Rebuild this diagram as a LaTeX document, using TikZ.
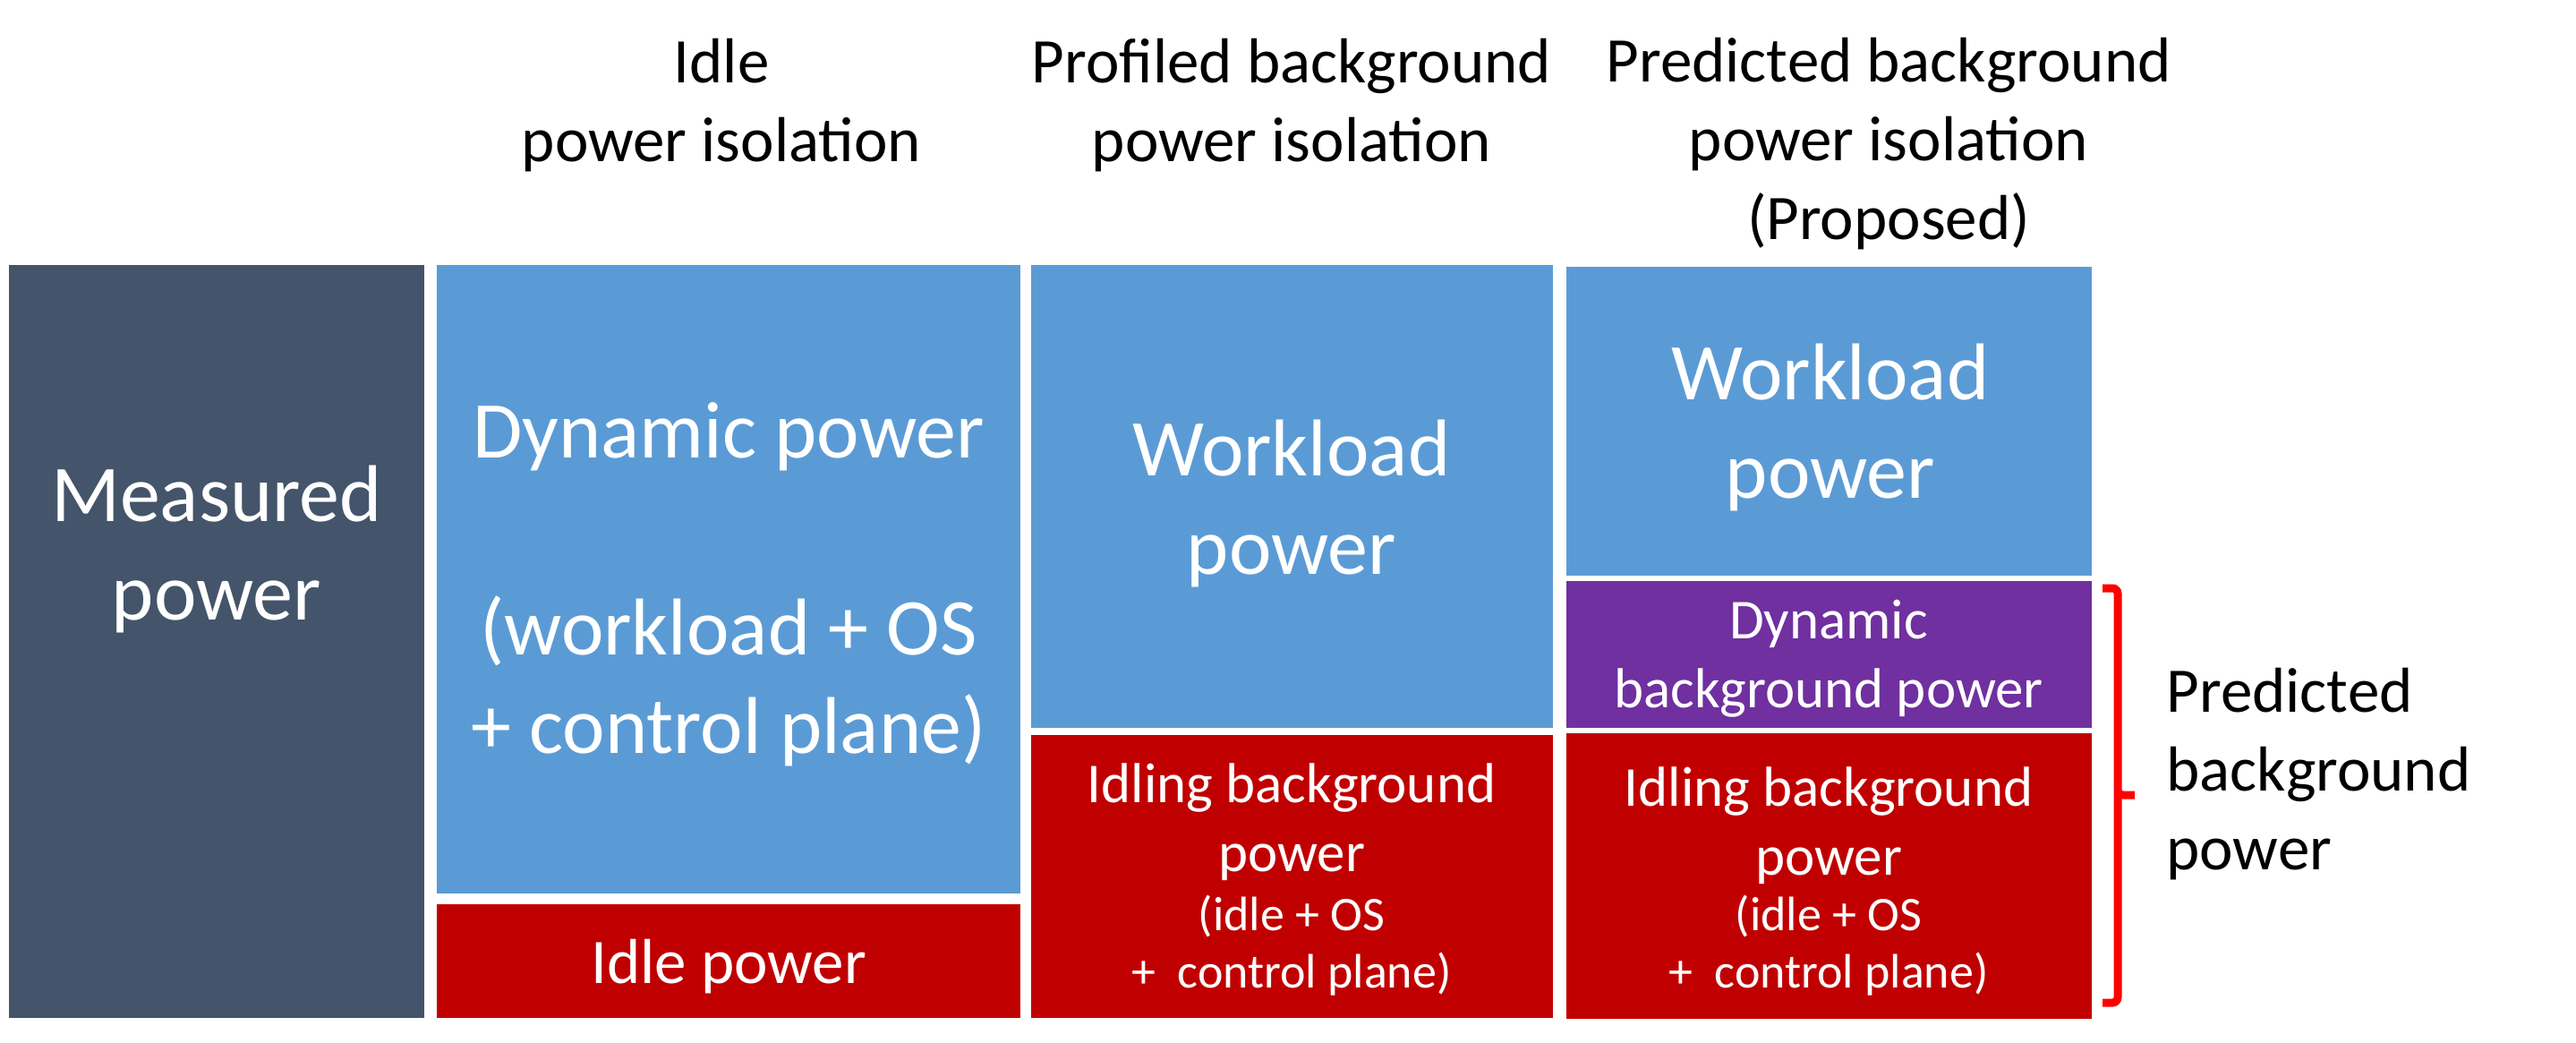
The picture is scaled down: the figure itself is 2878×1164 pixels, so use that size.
\documentclass[tikz,border=0pt]{standalone}
\usepackage{fontspec}
\setmainfont{Carlito}
\definecolor{slate}{RGB}{68,84,106}
\definecolor{cblue}{RGB}{91,155,213}
\definecolor{cred}{RGB}{192,0,0}
\definecolor{cpurple}{RGB}{112,48,160}
\definecolor{bred}{RGB}{255,0,0}
\tikzset{
  big/.style={font=\fontsize{45}{55}\selectfont, text=white, align=center, anchor=base, inner sep=0pt},
  mid/.style={font=\fontsize{31.5}{38.5}\selectfont, text=white, align=center, anchor=base, inner sep=0pt},
  small/.style={font=\fontsize{27}{32}\selectfont, text=white, align=center, anchor=base, inner sep=0pt},
  idle/.style={font=\fontsize{35.5}{44}\selectfont, text=white, align=center, anchor=base, inner sep=0pt},
  header/.style={font=\fontsize{35.5}{44}\selectfont, text=black, align=center, anchor=base, inner sep=0pt},
  sidelabel/.style={font=\fontsize{35.5}{44}\selectfont, text=black, align=left, anchor=base west, inner sep=0pt},
  bracket/.style={draw=bred, line width=4.5pt, rounded corners=3pt},
}
\begin{document}
\begin{tikzpicture}[x=0.5pt,y=-0.5pt]
\useasboundingbox (0,0) rectangle (2878,1164);
% boxes
\fill[slate] (10,296) rectangle (474,1137);
\fill[cblue] (488,296) rectangle (1140,998);
\fill[cred] (488,1010) rectangle (1140,1137);
\fill[cblue] (1152,296) rectangle (1735,813);
\fill[cred] (1152,821) rectangle (1735,1137);
\fill[cblue] (1750,298) rectangle (2337,643);
\fill[cpurple] (1750,649) rectangle (2337,813);
\fill[cred] (1750,819) rectangle (2337,1138);
% headers (anchor = baseline of last line)
\node[header] (h1) at (806,180) {Idle\\power isolation};
\node[header] (h2) at (1443,180) {Profiled background\\power isolation};
\node[header] (h3) at (2110,267) {Predicted background\\power isolation\\(Proposed)};
% box texts
\node[big] (mp) at (242,692) {Measured\\power};
\node[big] (dp) at (814,841) {Dynamic power\\[55pt](workload + OS\\+ control plane)};
\node[idle] (ip) at (814,1098) {Idle power};
\node[big] (wp3) at (1443,641) {Workload\\power};
\node[mid] (ib3) at (1443,973) {Idling background\\power};
\node[small] (is3) at (1443,1103) {(idle + OS\\+\ \ control plane)};
\node[big] (wp4) at (2045,556) {Workload\\power};
\node[mid] (db4) at (2043,790) {Dynamic\\background power};
\node[mid] (ib4) at (2043,977) {Idling background\\power};
\node[small] (is4) at (2043,1103) {(idle + OS\\+\ \ control plane)};
% bracket
\coordinate (bt) at (2349,657);
\coordinate (bb) at (2349,1120);
\coordinate (bm) at (2385,888);
\draw[bracket] (bt) -- (2366,657) -- (2366,888) -- (bm);
\draw[bracket] (2366,884) -- (2366,1120) -- (bb);
\node[sidelabel] (pb) at (2420,971) {Predicted\\background\\power};
\end{tikzpicture}
\end{document}
